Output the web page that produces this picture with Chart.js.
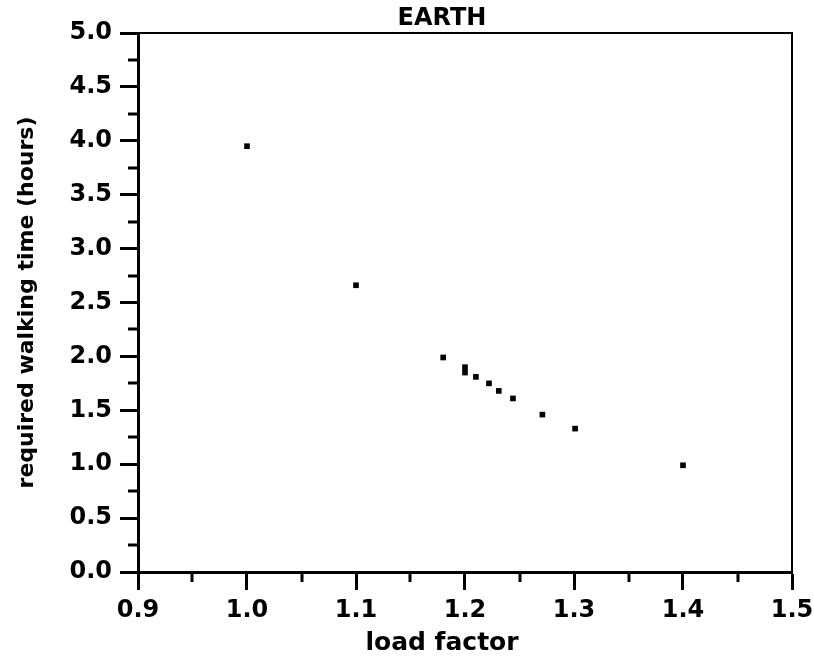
<!DOCTYPE html>
<html>
<head>
<meta charset="utf-8">
<script src="https://cdn.jsdelivr.net/npm/chart.js@4/dist/chart.umd.min.js"></script>
<style>
  html, body { margin: 0; padding: 0; background: #fff; }
  #wrap { width: 814px; height: 662px; }
</style>
</head>
<body>
<div id="wrap"><canvas id="chart" width="814" height="662"></canvas></div>
<script>
// load factor vs. required walking time (hours)
const loadFactor = [1.0, 1.1, 1.18, 1.2, 1.2, 1.21, 1.222, 1.231, 1.244, 1.271, 1.301, 1.4];
const walkHours = [3.95, 2.66, 1.99, 1.90, 1.85, 1.81, 1.75, 1.68, 1.61, 1.46, 1.33, 0.99];

const xTicks = [0.9, 1.0, 1.1, 1.2, 1.3, 1.4, 1.5];
const yTicks = [0.0, 0.5, 1.0, 1.5, 2.0, 2.5, 3.0, 3.5, 4.0, 4.5, 5.0];

const chartTitle = 'EARTH';
const xLabel = 'load factor';
const yLabel = 'required walking time (hours)';

const FONT = 'DejaVu Sans';

// frame, minor ticks and the titles
const framePlugin = {
  id: 'frame',
  afterDraw(chart) {
    const ctx = chart.ctx;
    const a = chart.chartArea;
    const xs = chart.scales.x, ys = chart.scales.y;
    ctx.save();
    ctx.strokeStyle = '#000';
    // top and right edges (thinner)
    ctx.lineWidth = 2;
    ctx.beginPath();
    ctx.moveTo(a.left, a.top);
    ctx.lineTo(a.right, a.top);
    ctx.lineTo(a.right, a.bottom);
    ctx.stroke();
    // minor ticks
    ctx.lineWidth = 3;
    ctx.beginPath();
    for (let i = 0; i < xTicks.length - 1; i++) {
      const px = Math.round(xs.getPixelForValue((xTicks[i] + xTicks[i + 1]) / 2));
      ctx.moveTo(px, a.bottom);
      ctx.lineTo(px, a.bottom + 10);
    }
    for (let i = 0; i < yTicks.length - 1; i++) {
      const py = Math.round(ys.getPixelForValue((yTicks[i] + yTicks[i + 1]) / 2));
      ctx.moveTo(a.left, py);
      ctx.lineTo(a.left - 10, py);
    }
    ctx.stroke();
    // titles
    ctx.fillStyle = '#000';
    ctx.textAlign = 'center';
    ctx.textBaseline = 'middle';
    ctx.font = 'bold 24px "' + FONT + '"';
    ctx.fillText(chartTitle, 442, 19);
    ctx.font = 'bold 25px "' + FONT + '"';
    ctx.fillText(xLabel, 442, 643);
    ctx.restore();
  }
};

new Chart(document.getElementById('chart'), {
  type: 'scatter',
  data: {
    datasets: [{
      data: loadFactor.map((x, i) => ({ x: x, y: walkHours[i] })),
      pointStyle: 'rect',
      pointRadius: 4,
      backgroundColor: '#000',
      borderColor: '#000',
      borderWidth: 0
    }]
  },
  options: {
    responsive: false,
    animation: false,
    layout: { padding: { top: 33, right: 22, left: 0, bottom: 0 } },
    plugins: {
      legend: { display: false },
      tooltip: { enabled: false },
      title: { display: false }
    },
    scales: {
      x: {
        type: 'linear',
        min: 0.9,
        max: 1.5,
        afterFit(scale) {
          scale.height = 90;
          scale.paddingLeft = 0;
          scale.paddingRight = 0;
        },
        afterBuildTicks(scale) { scale.ticks = xTicks.map(v => ({ value: v })); },
        ticks: {
          color: '#000',
          font: { family: FONT, size: 24, weight: 'bold' },
          padding: 6,
          maxRotation: 0,
          callback: v => Number(v).toFixed(1)
        },
        grid: { drawOnChartArea: false, tickLength: 18, tickWidth: 3, tickColor: '#000' },
        border: { color: '#000', width: 3 },
        title: { display: false }
      },
      y: {
        type: 'linear',
        min: 0,
        max: 5,
        afterFit(scale) {
          scale.width = 138;
          scale.paddingTop = 0;
          scale.paddingBottom = 0;
        },
        afterBuildTicks(scale) { scale.ticks = yTicks.map(v => ({ value: v })); },
        ticks: {
          color: '#000',
          font: { family: FONT, size: 24, weight: 'bold' },
          padding: 8,
          callback: v => Number(v).toFixed(1)
        },
        grid: { drawOnChartArea: false, tickLength: 18, tickWidth: 3, tickColor: '#000' },
        border: { color: '#000', width: 3 },
        title: {
          display: true,
          text: yLabel,
          color: '#000',
          font: { family: FONT, size: 22, weight: 'bold' },
          padding: { top: 14, bottom: 0 }
        }
      }
    }
  },
  plugins: [framePlugin]
});
</script>
</body>
</html>
